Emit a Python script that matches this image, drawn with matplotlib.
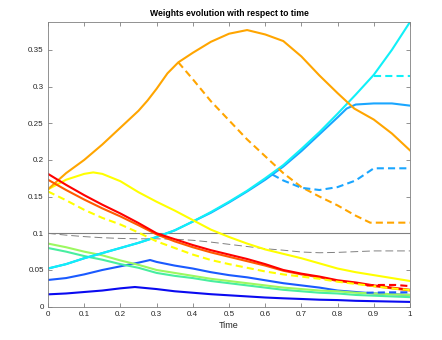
import numpy as np
import matplotlib
matplotlib.use("Agg")
from matplotlib import pyplot as plt
from matplotlib.ticker import FormatStrFormatter

plt.rcParams['font.family'] = ['Liberation Sans', 'DejaVu Sans']

t = [0, 0.05, 0.1, 0.15, 0.2, 0.25, 0.3, 0.35, 0.4, 0.45, 0.5,
     0.55, 0.6, 0.65, 0.7, 0.75, 0.8, 0.85, 0.9, 0.95, 1.0]

# solid weight curves
w_red = [0.181, 0.166, 0.152, 0.139, 0.127, 0.114, 0.100, 0.092, 0.084, 0.077, 0.071,
         0.065, 0.058, 0.050, 0.045, 0.041, 0.036, 0.033, 0.029, 0.026, 0.023]
w_orangered = [0.173, 0.159, 0.146, 0.134, 0.123, 0.111, 0.0985, 0.089, 0.081, 0.074, 0.068,
               0.062, 0.056, 0.049, 0.044, 0.040, 0.035, 0.032, 0.028, 0.025, 0.022]
w_lgreen = [0.086, 0.081, 0.075, 0.070, 0.063, 0.057, 0.050, 0.046, 0.042, 0.038, 0.035,
            0.032, 0.029, 0.026, 0.024, 0.022, 0.021, 0.019, 0.018, 0.017, 0.016]
w_sgreen = [0.080, 0.075, 0.069, 0.064, 0.058, 0.053, 0.046, 0.042, 0.039, 0.035, 0.032,
            0.029, 0.026, 0.023, 0.021, 0.019, 0.018, 0.016, 0.015, 0.014, 0.013]
w_cyan = [0.052, 0.058, 0.066, 0.073, 0.080, 0.087, 0.095, 0.104, 0.116, 0.129, 0.143,
          0.158, 0.175, 0.193, 0.215, 0.238, 0.263, 0.289, 0.316, 0.350, 0.388]

t_yellow = [0, 0.05, 0.1, 0.125, 0.15, 0.2, 0.25, 0.3, 0.35, 0.4, 0.45, 0.5,
            0.55, 0.6, 0.65, 0.7, 0.75, 0.8, 0.85, 0.9, 0.95, 1.0]
w_yellow = [0.160, 0.173, 0.181, 0.183, 0.181, 0.171, 0.156, 0.143, 0.131, 0.118, 0.105,
            0.095, 0.086, 0.078, 0.072, 0.066, 0.059, 0.052, 0.047, 0.043, 0.039, 0.035]

t_orange = [0, 0.05, 0.1, 0.15, 0.2, 0.25, 0.275, 0.3, 0.33, 0.36, 0.4, 0.45, 0.5, 0.55,
            0.6, 0.65, 0.7, 0.75, 0.8, 0.846, 0.9, 0.95, 1.0]
w_orange = [0.160, 0.182, 0.200, 0.221, 0.244, 0.267, 0.281, 0.297, 0.318, 0.333, 0.346,
            0.361, 0.372, 0.377, 0.371, 0.362, 0.341, 0.315, 0.291, 0.270, 0.255, 0.236,
            0.213]

t_sky = [0, 0.05, 0.1, 0.15, 0.2, 0.25, 0.3, 0.35, 0.4, 0.45, 0.5, 0.55, 0.6, 0.65,
         0.7, 0.75, 0.8, 0.825, 0.85, 0.9, 0.95, 1.0]
w_sky = [0.052, 0.058, 0.066, 0.073, 0.080, 0.087, 0.095, 0.104, 0.116, 0.128, 0.142,
         0.157, 0.173, 0.191, 0.212, 0.235, 0.258, 0.270, 0.2755, 0.277, 0.277, 0.274]

t_blue = [0, 0.05, 0.1, 0.15, 0.2, 0.25, 0.282, 0.3, 0.35, 0.4, 0.45, 0.5, 0.55, 0.6,
          0.65, 0.7, 0.75, 0.8, 0.85, 0.9, 0.95, 1.0]
w_blue = [0.0364, 0.039, 0.044, 0.050, 0.055, 0.060, 0.0636, 0.061, 0.056, 0.052, 0.047,
          0.043, 0.040, 0.036, 0.032, 0.029, 0.026, 0.022, 0.020, 0.018, 0.017, 0.016]

t_dblue = [0, 0.05, 0.1, 0.15, 0.2, 0.24, 0.3, 0.35, 0.4, 0.45, 0.5, 0.55, 0.6, 0.65,
           0.7, 0.75, 0.8, 0.85, 0.9, 0.95, 1.0]
w_dblue = [0.0168, 0.018, 0.020, 0.022, 0.025, 0.0268, 0.024, 0.021, 0.019, 0.017, 0.0155,
           0.014, 0.0125, 0.0114, 0.0105, 0.0095, 0.009, 0.008, 0.0075, 0.007, 0.0065]

# dashed curves
w_yellow_d = [0.157, 0.145, 0.132, 0.121, 0.112, 0.101, 0.089, 0.080, 0.071, 0.0636, 0.058,
              0.053, 0.048, 0.044, 0.041, 0.038, 0.034, 0.031, 0.028, 0.025, 0.0227]
w_gray_d = [0.100, 0.0975, 0.0955, 0.094, 0.093, 0.0925, 0.0925, 0.092, 0.0905, 0.088, 0.085,
            0.082, 0.079, 0.077, 0.0745, 0.0735, 0.074, 0.075, 0.076, 0.076, 0.076]
t_orange_d = [0.36, 0.4, 0.45, 0.5, 0.55, 0.6, 0.65, 0.7, 0.75, 0.8, 0.85, 0.89, 1.0]
w_orange_d = [0.333, 0.310, 0.280, 0.254, 0.228, 0.205, 0.182, 0.163, 0.150, 0.138, 0.124,
              0.1145, 0.1145]
t_sky_d = [0.62, 0.65, 0.7, 0.75, 0.8, 0.85, 0.9, 1.0]
w_sky_d = [0.180, 0.172, 0.162, 0.159, 0.163, 0.172, 0.1886, 0.1886]
t_cyan_d = [0.9, 1.0]
w_cyan_d = [0.315, 0.315]
t_red_d = [0.88, 0.92, 0.96, 1.0]
w_red_d = [0.029, 0.0296, 0.0296, 0.028]
t_blue_d = [0.88, 0.94, 1.0]
w_blue_d = [0.019, 0.0195, 0.0196]

fig = plt.figure(figsize=(4.42, 3.4), dpi=100)
ax = fig.add_axes([0.1086, 0.098, 0.819, 0.838])

lw = 1.5
dash = (3.4, 2.0)

ax.axhline(0.1, color='#808080', lw=0.8)
ax.plot(t, w_gray_d, color='#808080', lw=0.7, dashes=(8, 4))

ax.plot(t_dblue, w_dblue, color='#0a0af0', lw=lw)
ax.plot(t_blue, w_blue, color='#1a5aff', lw=lw)
ax.plot(t, w_sgreen, color='#48eea0', lw=lw)
ax.plot(t, w_lgreen, color='#9cf860', lw=lw)
ax.plot(t_sky, w_sky, color='#1aa6ff', lw=lw)
ax.plot(t, w_cyan, color='#10f0f8', lw=lw)
ax.plot(t_yellow, w_yellow, color='#ffff00', lw=lw)
ax.plot(t_orange, w_orange, color='#ffa500', lw=lw)
ax.plot(t, w_orangered, color='#ff5a00', lw=lw)
ax.plot(t, w_red, color='#ff0000', lw=lw)

ax.plot(t, w_yellow_d, color='#ffff00', lw=lw, dashes=dash)
ax.plot(t_orange_d, w_orange_d, color='#ffa500', lw=lw, dashes=dash)
ax.plot(t_sky_d, w_sky_d, color='#1aa6ff', lw=lw, dashes=dash)
ax.plot(t_cyan_d, w_cyan_d, color='#10f0f8', lw=lw, dashes=dash)
ax.plot(t_red_d, w_red_d, color='#ff0000', lw=lw, dashes=dash)
ax.plot(t_blue_d, w_blue_d, color='#1a5aff', lw=lw, dashes=dash)

ax.set_xlim(0, 1)
ax.set_ylim(0, 0.3883)
ax.set_xticks(np.arange(0, 1.01, 0.1))
ax.set_yticks(np.arange(0, 0.36, 0.05))
ax.xaxis.set_major_formatter(FormatStrFormatter('%g'))
ax.yaxis.set_major_formatter(FormatStrFormatter('%g'))
ax.tick_params(direction='in', top=True, right=True, length=3, width=0.6,
               color='#808080', labelsize=5.8, labelcolor='#262626', pad=3)
for s in ax.spines.values():
    s.set_color('#808080')
    s.set_linewidth(0.6)

ax.set_xlabel('Time', fontsize=6.5, color='#262626', labelpad=2)
ax.set_title('Weights evolution with respect to time', fontsize=6.2,
             fontweight='bold', pad=4)

fig.savefig('out.png', dpi=100)
